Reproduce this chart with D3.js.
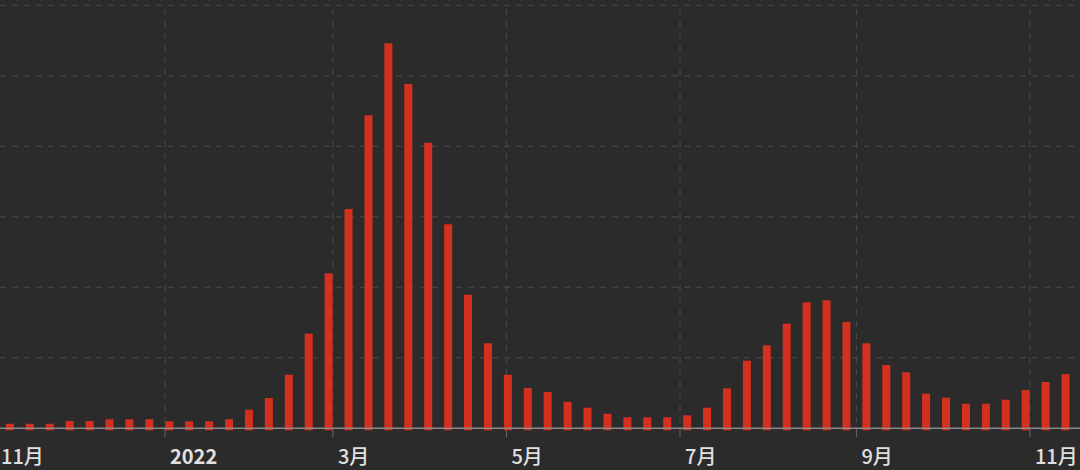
<!DOCTYPE html>
<html>
<head>
<meta charset="utf-8">
<script src="https://cdn.jsdelivr.net/npm/d3@7"></script>
<style>
  html, body { margin: 0; padding: 0; background: #2b2b2b; }
  svg { display: block; }
  .lbl { font-family: "Noto Sans CJK SC", "Noto Sans", sans-serif; fill: #e0e0e0; }
</style>
</head>
<body>
<svg id="chart" width="1080" height="470"></svg>
<script>
// weekly values, first week starting 2021-11-07
var firstWeek = "2021-11-07";
var weekly = [650, 650, 650, 1040, 1040, 1280, 1280, 1280, 990, 990,
  990, 1280, 2640, 4300, 7600, 13420, 21990, 31110, 44400, 54610,
  48840, 40510, 28940, 18950, 12060, 7600, 5720, 5150, 3770, 2920,
  2070, 1560, 1560, 1560, 1840, 2920, 5670, 9590, 11770, 14840,
  17870, 18160, 15080, 12060, 8980, 7940, 4910, 4340, 3490, 3490,
  4060, 5430, 6570, 7700];

var tickDates = ["2021-11-01", "2022-01-01", "2022-03-01", "2022-05-01", "2022-07-01", "2022-09-01", "2022-11-01"];
var tickLabels = ["11月", "2022", "3月", "5月", "7月", "9月", "11月"];
var yTicks = [10000, 20000, 30000, 40000, 50000, 60000];

var parse = d3.timeParse("%Y-%m-%d");
var start = parse(firstWeek);
var bars = weekly.map((v, i) => ({ date: d3.timeDay.offset(start, 7 * i), value: v }));

var svg = d3.select('svg#chart');

var x = d3.scaleTime()
  .domain([new Date(2021, 10, 4), new Date(2022, 10, 18, 14)])
  .range([0, 1080]);

var y = d3.scaleLinear()
  .domain([0, 60000])
  .range([428.3, 5.3]);

var barW = 8;

// horizontal grid
svg.append('g').selectAll('line').data(yTicks).enter().append('line')
  .attr('x1', 0).attr('x2', 1080)
  .attr('y1', d => y(d)).attr('y2', d => y(d))
  .attr('stroke', '#4c4c4c')
  .attr('stroke-width', 1)
  .attr('stroke-dasharray', '6,6');

// vertical grid + ticks
var ticks = tickDates.map(parse);
svg.append('g').selectAll('line').data(ticks).enter().append('line')
  .attr('x1', d => x(d)).attr('x2', d => x(d))
  .attr('y1', y(60000) + 4).attr('y2', y(0))
  .attr('stroke', '#4c4c4c')
  .attr('stroke-width', 1)
  .attr('stroke-dasharray', '6,6');

svg.append('g').selectAll('line').data(ticks).enter().append('line')
  .attr('x1', d => x(d)).attr('x2', d => x(d))
  .attr('y1', y(0)).attr('y2', y(0) + 9)
  .attr('stroke', '#6a6a6a')
  .attr('stroke-width', 1);

// bars
svg.append('g').selectAll('rect').data(bars).enter().append('rect')
  .attr('x', d => x(d3.timeHour.offset(d.date, 12)) - barW / 2)
  .attr('y', d => y(d.value))
  .attr('width', barW)
  .attr('height', d => y(0) - y(d.value) + 2)
  .attr('fill', '#d4301f');

// baseline
svg.append('line')
  .attr('x1', 0).attr('x2', 1080)
  .attr('y1', y(0)).attr('y2', y(0))
  .attr('stroke', '#8a8a8a')
  .attr('stroke-width', 1.5);

// month labels (first one kept inside the left edge)
svg.append('g').selectAll('text').data(ticks).enter().append('text')
  .attr('class', 'lbl')
  .attr('x', d => Math.max(1, x(d) + 5))
  .attr('y', 464)
  .attr('font-size', 20)
  .attr('font-weight', (d, i) => tickLabels[i] == '2022' ? 'bold' : 500)
  .text((d, i) => tickLabels[i]);
</script>
</body>
</html>
